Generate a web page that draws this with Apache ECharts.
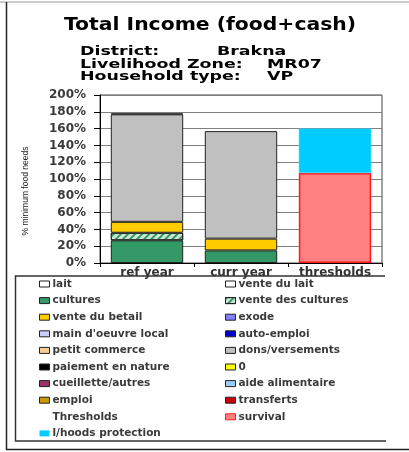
<!DOCTYPE html>
<html><head><meta charset="utf-8">
<script src="https://cdn.jsdelivr.net/npm/echarts@6/dist/echarts.min.js"></script>
<style>html,body{margin:0;padding:0;background:#fff}#c{width:409px;height:452px}</style>
</head><body><div id="c"></div>
<script>
// ---- data ----
const categories = ['ref year', 'curr year', 'thresholds'];
const yTickValues = [0, 20, 40, 60, 80, 100, 120, 140, 160, 180, 200];
const lait            = [0, 0, 0];
const venteDuLait     = [0, 0, 0];
const cultures        = [27, 15, 0];
const venteDesCultures= [9, 0, 0];
const venteDuBetail   = [13, 14, 0];
const exode           = [0, 0, 0];
const mainOeuvre      = [0, 0, 0];
const autoEmploi      = [0, 0, 0];
const petitCommerce   = [0, 0, 0];
const donsVersements  = [128, 128, 0];
const paiementNature  = [1, 0, 0];
const zeroSeries      = [0, 0, 0];
const cueillette      = [0, 0, 0];
const aideAlimentaire = [0, 0, 0];
const emploi          = [0, 0, 0];
const transferts      = [0, 0, 0];
const survival        = [0, 0, 107];
const protection      = [0, 0, 53];

const seriesDefs = [
  ['lait', lait, '#ffffff'],
  ['vente du lait', venteDuLait, '#ffffff'],
  ['cultures', cultures, '#339966'],
  ['vente des cultures', venteDesCultures, '#cfe6d6', true],
  ['vente du betail', venteDuBetail, '#ffcc00'],
  ['exode', exode, '#8080ff'],
  ["main d'oeuvre local", mainOeuvre, '#ccccff'],
  ['auto-emploi', autoEmploi, '#0000cc'],
  ['petit commerce', petitCommerce, '#ffcc99'],
  ['dons/versements', donsVersements, '#c0c0c0'],
  ['paiement en nature', paiementNature, '#000000'],
  ['0', zeroSeries, '#ffff00'],
  ['cueillette/autres', cueillette, '#993366'],
  ['aide alimentaire', aideAlimentaire, '#99ccff'],
  ['emploi', emploi, '#cc9900'],
  ['transferts', transferts, '#cc0000'],
  ['survival', survival, '#ff8080'],
  ['l/hoods protection', protection, '#00ccff']
];

const series = seriesDefs.map(d => {
  const s = {
    name: d[0], type: 'bar', stack: 'total',
    data: d[1].map(v => (v === 0 ? null : v)),
    barCategoryGap: '23%',
    itemStyle: { color: d[2], borderColor: '#222', borderWidth: 1 }
  };
  if (d[3]) {
    s.itemStyle.decal = { symbol: 'rect', symbolSize: 1, color: '#339966',
      dashArrayX: [1, 0], dashArrayY: [2, 3], rotation: -Math.PI / 4 };
  }
  if (d[0] === 'survival') s.itemStyle = { color: d[2], borderColor: '#ff1a1a', borderWidth: 1.5 };
  if (d[0] === 'l/hoods protection') s.itemStyle = { color: d[2], borderColor: '#33d6ff', borderWidth: 0.5 };
  return s;
});
series.push({ name: 'Thresholds', type: 'bar', stack: 'total', data: [] });

const leftCol = ['lait', 'cultures', 'vente du betail', "main d'oeuvre local", 'petit commerce',
  'paiement en nature', 'cueillette/autres', 'emploi', 'Thresholds', 'l/hoods protection'];
const rightCol = ['vente du lait', 'vente des cultures', 'exode', 'auto-emploi', 'dons/versements',
  '0', 'aide alimentaire', 'transferts', 'survival'];

function legendItems(list) {
  return list.map(n => {
    if (n === 'Thresholds') return { name: n, itemStyle: { opacity: 0, borderWidth: 0 } };
    if (n === 'l/hoods protection') return { name: n, itemStyle: { borderWidth: 0 } };
    if (n === 'survival') return { name: n, itemStyle: { borderColor: '#ff1a1a', borderWidth: 1 } };
    return { name: n };
  });
}
const legendCommon = {
  orient: 'vertical', top: 278.5, itemWidth: 10, itemHeight: 6, itemGap: 5.6,
  icon: 'rect', selectedMode: false, padding: 0,
  itemStyle: { borderColor: '#222', borderWidth: 1 },
  textStyle: { fontFamily: 'DejaVu Sans', fontWeight: 'bold', fontSize: 10.5, color: '#3a3a3a', lineHeight: 11, padding: [0, 0, 0, -2] }
};

const chart = echarts.init(document.getElementById('c'), null, { renderer: 'canvas' });
chart.setOption({
  animation: false,
  backgroundColor: '#fff',
  grid: { left: 100, right: 27, top: 95, bottom: 189, show: true, borderColor: '#444', borderWidth: 1, backgroundColor: '#fff' },
  xAxis: {
    type: 'category', data: categories, boundaryGap: true,
    axisLine: { lineStyle: { color: '#000', width: 1 } },
    axisTick: { show: true, length: 4, lineStyle: { color: '#000' } },
    axisLabel: { fontFamily: 'DejaVu Sans', fontWeight: 'bold', fontSize: 12, color: '#333', margin: 4 }
  },
  yAxis: {
    type: 'value', min: 0, max: 200, interval: 20,
    name: '% minimum food needs', nameLocation: 'middle', nameGap: 70, nameRotate: 90,
    nameTextStyle: { fontFamily: 'Liberation Sans', fontSize: 8.5, color: '#222', padding: [0, 24, 0, 0] },
    axisLine: { show: true, lineStyle: { color: '#000', width: 1 } },
    axisTick: { show: true, length: 6, lineStyle: { color: '#000' } },
    splitLine: { show: true, lineStyle: { color: '#808080', width: 1 } },
    axisLabel: { fontFamily: 'DejaVu Sans', fontWeight: 'bold', fontSize: 12, color: '#3a3a3a', margin: 14,
      formatter: v => yTickValues.includes(v) ? v + '%' : '' }
  },
  legend: [
    Object.assign({}, legendCommon, { left: 39, data: legendItems(leftCol) }),
    Object.assign({}, legendCommon, { left: 225, data: legendItems(rightCol) })
  ],
  graphic: [
    { type: 'polyline', shape: { points: [[0, 2], [409, 2]] }, style: { stroke: '#999', lineWidth: 1, fill: null } },
    { type: 'polyline', shape: { points: [[6.5, 2], [6.5, 449.5], [409, 449.5]] }, style: { stroke: '#222', lineWidth: 1.5, fill: null } },
    { type: 'polyline', shape: { points: [[385, 276], [15.5, 276], [15.5, 441], [386, 441]] }, style: { stroke: '#333', lineWidth: 1.5, fill: null } },
    { type: 'text', x: 210, y: 25, scaleX: 1.13,
      style: { text: 'Total Income (food+cash)', font: 'bold 18px "DejaVu Sans"', fill: '#000', textAlign: 'center', textVerticalAlign: 'middle' } },
    { type: 'text', x: 80, y: 52, scaleX: 1.45, style: { text: 'District:', font: 'bold 12px "DejaVu Sans"', fill: '#000', textVerticalAlign: 'middle' } },
    { type: 'text', x: 217, y: 52, scaleX: 1.45, style: { text: 'Brakna', font: 'bold 12px "DejaVu Sans"', fill: '#000', textVerticalAlign: 'middle' } },
    { type: 'text', x: 80, y: 64.5, scaleX: 1.45, style: { text: 'Livelihood Zone:', font: 'bold 12px "DejaVu Sans"', fill: '#000', textVerticalAlign: 'middle' } },
    { type: 'text', x: 267, y: 64.5, scaleX: 1.45, style: { text: 'MR07', font: 'bold 12px "DejaVu Sans"', fill: '#000', textVerticalAlign: 'middle' } },
    { type: 'text', x: 80, y: 77, scaleX: 1.45, style: { text: 'Household type:', font: 'bold 12px "DejaVu Sans"', fill: '#000', textVerticalAlign: 'middle' } },
    { type: 'text', x: 267, y: 77, scaleX: 1.45, style: { text: 'VP', font: 'bold 12px "DejaVu Sans"', fill: '#000', textVerticalAlign: 'middle' } }
  ],
  series: series
});
</script>
</body></html>
